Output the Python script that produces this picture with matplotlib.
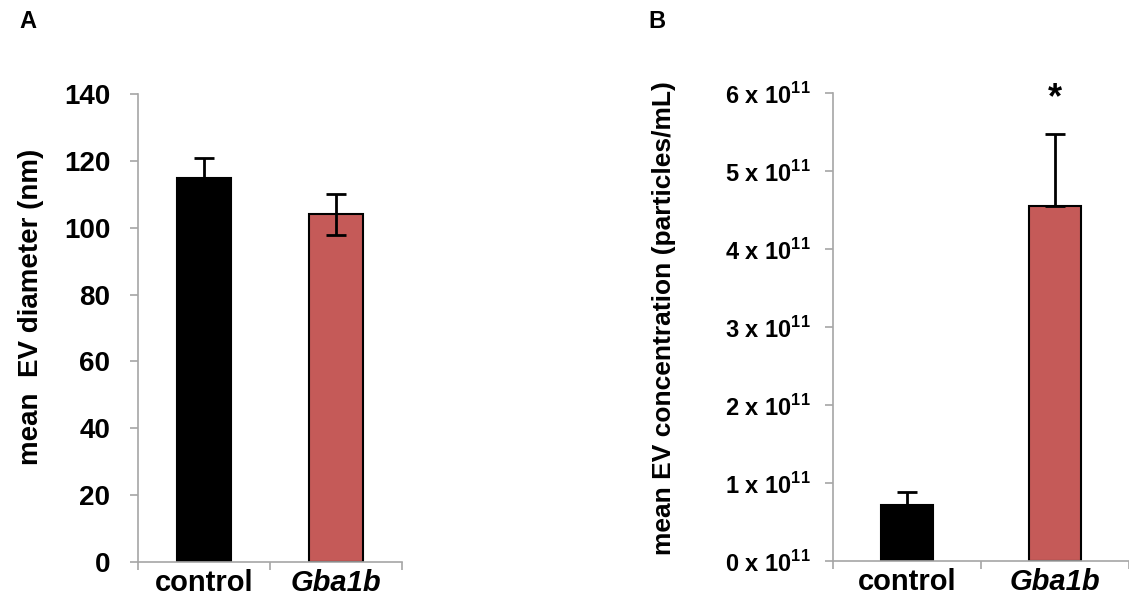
import matplotlib.pyplot as plt
import numpy as np

plt.rcParams['font.family'] = ['Liberation Sans', 'DejaVu Sans']
plt.rcParams['font.weight'] = 'bold'
plt.rcParams['mathtext.fontset'] = 'custom'
plt.rcParams['mathtext.rm'] = 'Liberation Sans:bold'
plt.rcParams['mathtext.bf'] = 'Liberation Sans:bold'

# ---------------- dados ----------------
groups = ['control', 'Gba1b']
bar_colors = ['#000000', '#C55A58']

diam_mean = [114.9, 104.0]      # nm
diam_err = [6.1, 6.1]

conc_mean = [0.72, 4.55]        # x 10^11 particles/mL
conc_err = [0.16, 0.93]
conc_ticks = [0, 1, 2, 3, 4, 5, 6]

axis_grey = '#A6A6A6'

fig = plt.figure(figsize=(11.29, 6.0), dpi=100)
axA = fig.add_axes([138 / 1129, 38 / 600, 264 / 1129, 468 / 600])
axB = fig.add_axes([833 / 1129, 39 / 600, 296 / 1129, 468 / 600])


def style_axis(ax):
    for s in ['top', 'right']:
        ax.spines[s].set_visible(False)
    for s in ['left', 'bottom']:
        ax.spines[s].set_color(axis_grey)
        ax.spines[s].set_linewidth(1.2)
    ax.set_xlim(-0.5, 1.5)
    # ticks do eixo x ficam nas fronteiras das categorias
    ax.set_xticks([0, 1])
    ax.set_xticklabels(groups, fontsize=21, fontweight='bold')
    ax.get_xticklabels()[1].set_fontstyle('italic')
    ax.tick_params(axis='x', length=0, pad=5)
    ax.set_xticks([-0.5, 0.5, 1.5], minor=True)
    ax.tick_params(axis='x', which='minor', length=6, color=axis_grey, width=1.2)
    ax.tick_params(axis='y', length=6, color=axis_grey, width=1.2, direction='out', pad=14)


# ---------------- painel A ----------------
x = np.arange(len(groups))
axA.bar(x, diam_mean, width=0.41, color=bar_colors, edgecolor='black', linewidth=1.5, zorder=2)
axA.errorbar(x, diam_mean, yerr=diam_err, fmt='none', ecolor='black', elinewidth=2,
             capsize=7, capthick=2, zorder=3)
axA.set_ylim(0, 140)
axA.set_yticks(range(0, 141, 20))
axA.set_yticklabels([str(v) for v in range(0, 141, 20)], fontsize=20, fontweight='bold')
style_axis(axA)
axA.set_ylabel('mean  EV diameter (nm)', fontsize=20, fontweight='bold')
axA.yaxis.set_label_coords(-0.355, 0.545)

# ---------------- painel B ----------------
axB.bar(x, conc_mean, width=0.35, color=bar_colors, edgecolor='black', linewidth=1.5, zorder=2)
axB.errorbar(x, conc_mean, yerr=[[0, 0], conc_err], fmt='none', ecolor='black', elinewidth=2,
             capsize=7, capthick=2, zorder=3)
axB.set_ylim(0, 6)
axB.set_yticks(conc_ticks)
axB.set_yticklabels([f'{v} x 10$^{{11}}$' for v in conc_ticks], fontsize=17, fontweight='bold')
style_axis(axB)
axB.tick_params(axis='y', pad=10)
axB.set_ylabel('mean EV concentration (particles/mL)', fontsize=19, fontweight='bold')
axB.yaxis.set_label_coords(-0.53, 0.519)
axB.text(1, conc_mean[1] + conc_err[1] + 0.45, '*', ha='center', va='center',
         fontsize=26, fontweight='bold')

fig.text(28 / 1129, 1 - 22 / 600, 'A', fontsize=17, fontweight='bold', ha='center', va='center')
fig.text(657 / 1129, 1 - 22 / 600, 'B', fontsize=17, fontweight='bold', ha='center', va='center')

fig.savefig('out.png', dpi=100)
